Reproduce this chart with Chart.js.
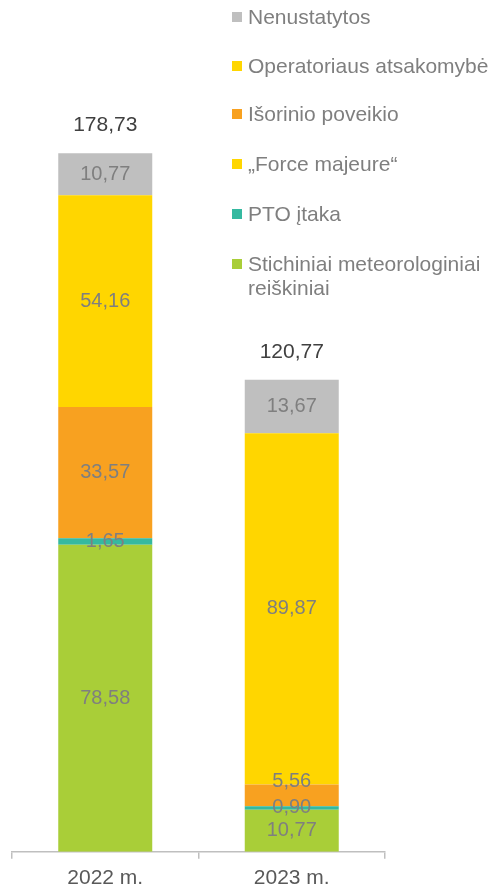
<!DOCTYPE html>
<html>
<head>
<meta charset="utf-8">
<script src="https://cdn.jsdelivr.net/npm/chart.js@4"></script>
<style>
  html, body { margin: 0; padding: 0; background: #fff; overflow: hidden; }
  #wrap { position: relative; width: 491px; height: 889px; overflow: hidden; }
  canvas { position: absolute; left: 0; top: 0; }
  #legend { position: absolute; left: 0; top: 0; width: 491px; height: 300px; pointer-events: none;
            font-family: "Liberation Sans", Arial, sans-serif; font-size: 21px; color: #7f7f7f; }
  .item { position: absolute; left: 248px; line-height: 24px; white-space: nowrap; }
  .box { position: absolute; left: -16px; top: 7px; width: 10px; height: 10px; }
</style>
</head>
<body>
<div id="wrap">
  <canvas id="c" width="491" height="899"></canvas>
  <div id="legend"></div>
</div>
<script>
// ---- data ----
const categories = ["2022 m.", "2023 m."];
// stacking order, bottom to top (legend shows it reversed)
const seriesNames = [
  "Stichiniai meteorologiniai\nreiškiniai",
  "PTO įtaka",
  "„Force majeure“",
  "Išorinio poveikio",
  "Operatoriaus atsakomybė",
  "Nenustatytos"
];
const stichiniai   = [78.58, 10.77];
const ptoItaka     = [1.65, 0.90];
const forceMajeure = [0, 0];
const isorinio     = [33.57, 5.56];
const operatoriaus = [54.16, 89.87];
const nenustatytos = [10.77, 13.67];
const seriesColors = ["#A9CE38", "#35B9A0", "#FFD600", "#F8A120", "#FFD600", "#BFBFBF"];

const seriesValues = [stichiniai, ptoItaka, forceMajeure, isorinio, operatoriaus, nenustatytos];

const fmt = v => v.toFixed(2).replace('.', ',');

// ---- legend (reverse order, as in the reference) ----
const legendTops = [5, 54, 102, 152, 202, 252];
const legend = document.getElementById('legend');
seriesNames.slice().reverse().forEach((name, i) => {
  const idx = seriesNames.length - 1 - i;
  const d = document.createElement('div');
  d.className = 'item';
  d.style.top = legendTops[i] + 'px';
  const b = document.createElement('span');
  b.className = 'box';
  b.style.background = seriesColors[idx];
  d.appendChild(b);
  name.split('\n').forEach((line, k) => {
    if (k > 0) d.appendChild(document.createElement('br'));
    d.appendChild(document.createTextNode(line));
  });
  legend.appendChild(d);
});

// ---- labels plugin ----
const labelShift = { "3,1": -14 };
const labelsPlugin = {
  id: 'barLabels',
  afterDatasetsDraw(chart) {
    const ctx = chart.ctx;
    ctx.save();
    ctx.textAlign = 'center';
    ctx.textBaseline = 'middle';
    ctx.font = '20px "Liberation Sans", Arial, sans-serif';
    ctx.fillStyle = '#7f7f7f';
    chart.data.datasets.forEach((ds, di) => {
      const meta = chart.getDatasetMeta(di);
      meta.data.forEach((bar, i) => {
        const v = ds.data[i];
        if (!v) return;
        const y = (bar.y + bar.base) / 2 + (labelShift[di + ',' + i] || 0);
        ctx.fillText(fmt(v), bar.x, y);
      });
    });
    // totals
    ctx.font = '21px "Liberation Sans", Arial, sans-serif';
    ctx.fillStyle = '#404040';
    const last = chart.getDatasetMeta(chart.data.datasets.length - 1);
    categories.forEach((c, i) => {
      const total = seriesValues.reduce((s, arr) => s + arr[i], 0);
      const yTop = chart.scales.y.getPixelForValue(total);
      ctx.fillText(fmt(total), last.data[i].x, yTop - 28);
    });
    ctx.restore();
  }
};

new Chart(document.getElementById('c'), {
  type: 'bar',
  data: {
    labels: categories,
    datasets: seriesNames.map((n, i) => ({
      label: n.replace('\n', ' '),
      data: seriesValues[i],
      backgroundColor: seriesColors[i],
      borderWidth: 0,
      categoryPercentage: 1,
      barPercentage: 0.504
    }))
  },
  options: {
    responsive: false,
    animation: false,
    layout: { padding: { left: 12, right: 106, top: 70, bottom: 1 } },
    plugins: { legend: { display: false }, tooltip: { enabled: false } },
    scales: {
      x: {
        stacked: true,
        grid: { display: true, offset: true, drawOnChartArea: false, drawTicks: true, tickLength: 7, color: '#bfbfbf', lineWidth: 1.5 },
        border: { display: true, color: '#bfbfbf', width: 1.5 },
        ticks: { color: '#595959', font: { size: 21, family: '"Liberation Sans", Arial, sans-serif' }, padding: 7 }
      },
      y: {
        stacked: true, display: false, min: 0, max: 200
      }
    }
  },
  plugins: [labelsPlugin]
});
</script>
</body>
</html>
